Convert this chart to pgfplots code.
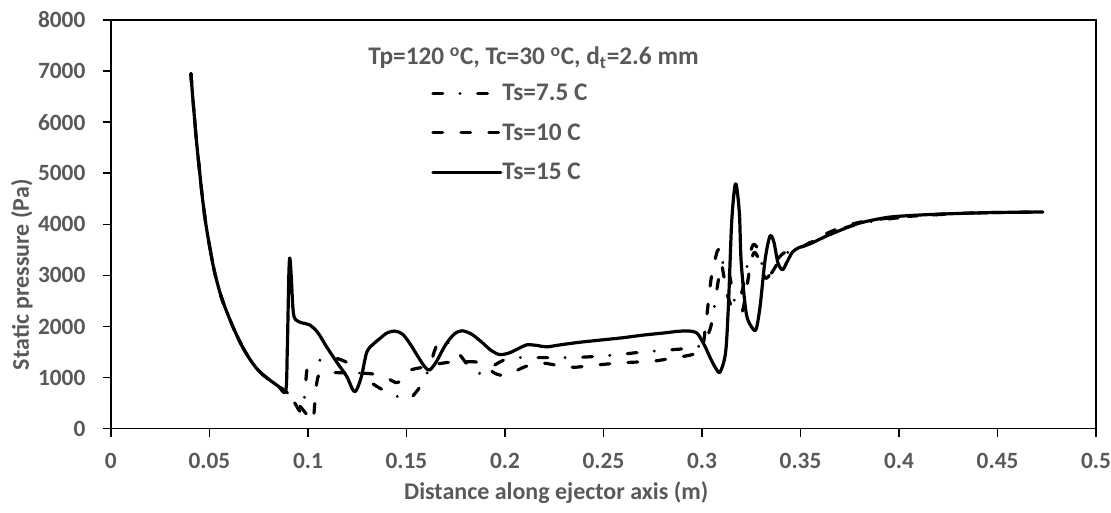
\documentclass[border=0pt]{standalone}
\usepackage{pgfplots}
\pgfplotsset{compat=1.18}
\usepackage{fontspec}
\setmainfont{Carlito}
\definecolor{labelgray}{RGB}{89,89,89}
\newcommand{\lbl}{\bfseries\fontsize{17.5}{21}\selectfont}
\newcommand{\albl}{\bfseries\fontsize{18}{22}\selectfont}
\newcommand{\legf}{\bfseries\fontsize{19}{23}\selectfont}

\begin{document}
\begin{tikzpicture}
\begin{axis}[
  scale only axis,
  width=739.5pt, height=306.75pt,
  xmin=0, xmax=0.5, ymin=0, ymax=8000,
  xtick={0,0.05,0.1,0.15,0.2,0.25,0.3,0.35,0.4,0.45,0.5},
  xticklabels={0,0.05,0.1,0.15,0.2,0.25,0.3,0.35,0.4,0.45,0.5},
  ytick={0,1000,2000,3000,4000,5000,6000,7000,8000},
  yticklabels={0,1000,2000,3000,4000,5000,6000,7000,8000},
  xtick pos=lower, ytick pos=left,
  tick align=outside,
  major tick length=6pt,
  axis line style={line width=1.2pt, black},
  every tick/.style={black, line width=1.2pt},
  tick label style={font=\lbl, text=labelgray, inner sep=0pt},
  xticklabel style={anchor=north, yshift=-12pt},
  yticklabel style={anchor=east, xshift=-13pt},
  every axis y label/.style={at={(axis description cs:-0.0903,0.3765)}, rotate=90, anchor=center},
  every axis x label/.style={at={(axis description cs:0.452,-0.1565)}, anchor=center},
  label style={font=\albl, text=labelgray},
  xlabel={Distance along ejector axis (m)},
  ylabel={Static pressure (Pa)},
  legend image code/.code={\draw[#1] (0pt,0pt) -- (51pt,0pt);},
  legend style={at={(axis cs:0.16263,5790)}, anchor=west, draw=none, fill=none,
    inner sep=0pt, outer sep=0pt, row sep=15.5pt,
    font=\legf, text=labelgray,
    nodes={inner sep=0pt, anchor=west},
    /tikz/every even column/.append style={column sep=2.5pt}},
  legend cell align=left,
  every axis plot/.append style={line width=2.4pt, black, line cap=round, line join=round, smooth, tension=0.5},
]

% Ts = 7.5 C (dash-dot)
\addplot[dash pattern=on 7.35pt off 13pt on 0.01pt off 13.2pt] coordinates {
(0.0406,6950)(0.0415,6500)(0.0425,6050)(0.0435,5600)(0.0451,5000)(0.0465,4500)
(0.0482,4000)(0.0505,3480)(0.0527,3050)(0.056,2580)(0.0595,2220)(0.063,1900)
(0.0665,1620)(0.07,1390)(0.0735,1200)(0.077,1060)(0.081,940)(0.085,830)(0.0887,730)
(0.093,520)(0.0967,320)(0.0985,700)(0.0995,1150)(0.102,1280)(0.108,1360)
(0.113,1390)(0.12,1290)(0.127,1060)(0.134,850)(0.14,720)(0.146,620)(0.151,570)
(0.155,720)(0.159,950)(0.162,1250)(0.165,1600)(0.168,1750)(0.172,1650)
(0.177,1450)(0.181,1250)(0.186,1080)(0.19,1120)(0.195,1250)(0.2,1350)
(0.206,1390)(0.215,1390)(0.227,1390)(0.24,1400)(0.255,1440)(0.27,1500)
(0.285,1545)(0.295,1580)(0.3,1640)(0.302,1750)(0.3045,2000)(0.3065,2450)
(0.3085,2950)(0.3105,3250)(0.3125,3270)(0.3145,2900)(0.3165,2500)(0.3185,2450)
(0.321,2800)(0.3235,3300)(0.326,3600)(0.3285,3500)(0.331,3150)(0.334,3000)
(0.337,3150)(0.341,3400)(0.346,3480)(0.352,3580)(0.36,3740)(0.37,3900)
(0.38,4010)(0.39,4080)(0.4,4130)(0.41,4165)(0.42,4190)(0.43,4210)(0.44,4222)
(0.45,4230)(0.46,4236)(0.473,4240)
};
\addlegendentry{Ts=7.5 C}

% Ts = 10 C (dashed)
\addplot[dash pattern=on 7.3pt off 13.7pt] coordinates {
(0.0406,6950)(0.0415,6500)(0.0425,6050)(0.0435,5600)(0.0451,5000)(0.0465,4500)
(0.0482,4000)(0.0505,3480)(0.0527,3050)(0.056,2580)(0.0595,2220)(0.063,1900)
(0.0665,1620)(0.07,1390)(0.0735,1200)(0.077,1060)(0.081,940)(0.085,830)(0.0887,730)
(0.095,480)(0.1,250)(0.1025,150)(0.1035,500)(0.1045,900)(0.106,1080)
(0.11,1100)(0.12,1090)(0.13,1080)(0.136,1050)(0.141,970)(0.145,900)
(0.148,960)(0.151,1130)(0.158,1200)(0.165,1260)(0.172,1300)(0.18,1310)
(0.186,1300)(0.19,1220)(0.195,1080)(0.2,1040)(0.205,1120)(0.21,1210)
(0.215,1270)(0.22,1280)(0.228,1230)(0.235,1200)(0.245,1240)(0.26,1290)
(0.275,1320)(0.285,1380)(0.295,1450)(0.3,1560)(0.3015,1900)(0.303,2400)
(0.3045,2900)(0.306,3200)(0.3078,3480)(0.309,3450)(0.311,3000)(0.313,2600)
(0.3155,2350)(0.318,2250)(0.3205,2300)(0.3225,2700)(0.3245,3200)(0.3265,3450)
(0.329,3300)(0.332,2950)(0.335,3050)(0.338,3300)(0.342,3450)(0.347,3500)
(0.352,3580)(0.36,3760)(0.37,3930)(0.38,4040)(0.39,4100)(0.4,4140)
(0.41,4170)(0.42,4195)(0.43,4212)(0.44,4224)(0.45,4232)(0.46,4237)(0.473,4240)
};
\addlegendentry{Ts=10 C}

% Ts = 15 C (solid)
\addplot[solid] coordinates {
(0.0406,6950)(0.0415,6500)(0.0425,6050)(0.0435,5600)(0.0451,5000)(0.0465,4500)
(0.0482,4000)(0.0505,3480)(0.0527,3050)(0.056,2580)(0.0595,2220)(0.063,1900)
(0.0665,1620)(0.07,1390)(0.0735,1200)(0.077,1060)(0.081,940)(0.085,830)(0.0887,730)
(0.0895,1500)(0.0903,3000)(0.0908,3340)(0.0915,3000)(0.0925,2300)(0.0938,2130)
(0.097,2070)(0.1009,2030)(0.105,1880)(0.1095,1600)(0.115,1280)(0.1197,1020)
(0.1237,720)(0.127,1000)(0.1298,1490)(0.133,1650)(0.1364,1760)(0.14,1870)
(0.144,1910)(0.148,1850)(0.152,1650)(0.156,1400)(0.1595,1200)(0.1618,1150)
(0.165,1300)(0.17,1650)(0.1745,1860)(0.1783,1915)(0.183,1850)(0.188,1700)
(0.193,1530)(0.1973,1450)(0.202,1480)(0.207,1570)(0.211,1640)(0.216,1630)
(0.221,1600)(0.228,1640)(0.2378,1690)(0.25,1740)(0.26,1780)(0.27,1830)
(0.28,1870)(0.29,1910)(0.297,1880)(0.301,1650)(0.304,1400)(0.307,1180)
(0.3092,1110)(0.312,1500)(0.3135,2500)(0.315,4000)(0.3165,4700)(0.3175,4750)
(0.319,4200)(0.3199,3250)(0.3224,2270)(0.325,2000)(0.3274,1940)(0.3295,2400)
(0.332,3300)(0.3345,3770)(0.3365,3650)(0.3385,3250)(0.3408,3110)(0.343,3250)
(0.3458,3450)(0.349,3540)(0.355,3620)(0.362,3750)(0.37,3880)(0.378,4000)
(0.385,4070)(0.395,4140)(0.405,4170)(0.415,4190)(0.425,4205)(0.435,4218)
(0.445,4228)(0.455,4234)(0.465,4238)(0.473,4240)
};
\addlegendentry{Ts=15 C}

\node[font=\legf, text=labelgray, anchor=base] at (axis cs:0.2145,7120)
  {Tp=120 \textsuperscript{o}C, Tc=30 \textsuperscript{o}C, d\textsubscript{t}=2.6 mm};

\coordinate (bbl) at (axis description cs:-0.11258,-0.20538);
\coordinate (btr) at (axis description cs:1.01420,1.04890);
\end{axis}
\path (bbl) rectangle (btr);
\end{tikzpicture}
\end{document}
